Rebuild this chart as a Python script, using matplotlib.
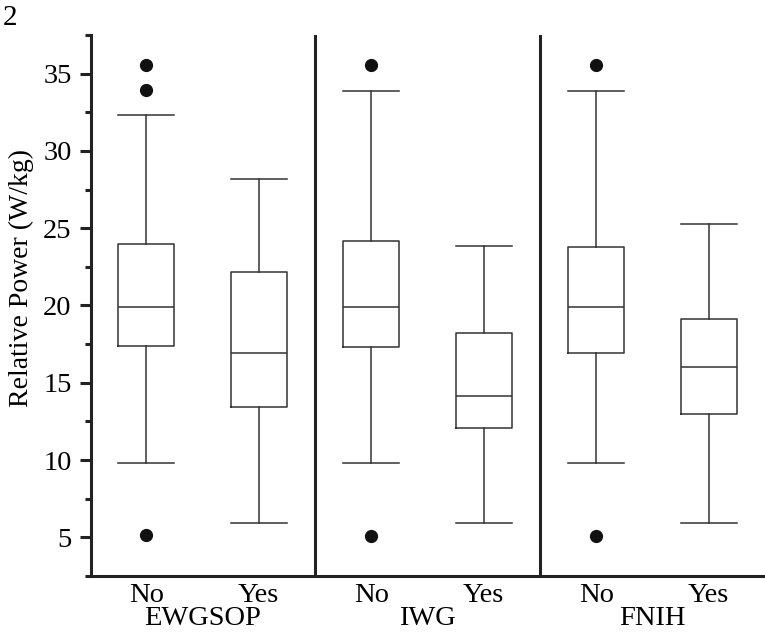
import matplotlib
matplotlib.use("Agg")
import matplotlib.pyplot as plt
import matplotlib.transforms as mtransforms
from matplotlib.ticker import MultipleLocator

plt.rcParams['font.family'] = ['Liberation Serif', 'DejaVu Serif']

# box plot summaries
groups = ["EWGSOP", "IWG", "FNIH"]
labels = ["No", "Yes", "No", "Yes", "No", "Yes"]
whislo = [9.8, 5.9, 9.8, 5.9, 9.8, 5.9]
q1 = [17.4, 13.4, 17.3, 12.1, 16.9, 13.0]
med = [19.9, 16.9, 19.9, 14.15, 19.9, 16.05]
q3 = [23.95, 22.15, 24.15, 18.2, 23.8, 19.1]
whishi = [32.3, 28.2, 33.9, 23.85, 33.9, 25.3]
fliers = [[35.55, 33.95, 5.15], [], [35.55, 5.1], [], [35.55, 5.1], []]

stats = []
for i in range(len(labels)):
    stats.append(dict(label=labels[i], whislo=whislo[i], q1=q1[i], med=med[i],
                      q3=q3[i], whishi=whishi[i], fliers=fliers[i]))

fig = plt.figure(figsize=(7.65, 6.38), dpi=100)
ax = fig.add_axes([0.119, 0.0972, 0.881, 0.848])

line_col = '#333333'
positions = list(range(1, len(labels) + 1))
ax.bxp(stats, positions=positions, widths=0.5, capwidths=0.5,
       boxprops=dict(color=line_col, linewidth=1.1),
       whiskerprops=dict(color=line_col, linewidth=1.1),
       capprops=dict(color=line_col, linewidth=1.1),
       medianprops=dict(color=line_col, linewidth=1.1),
       flierprops=dict(marker='o', markerfacecolor='#111111',
                       markeredgecolor='#111111', markersize=8.5))

# group separators
for xs in [2.5, 4.5]:
    ax.axvline(xs, color='#222222', linewidth=2.2)

ax.set_xlim(0.51, 6.5)
ax.set_ylim(2.5, 37.5)
ax.yaxis.set_major_locator(MultipleLocator(5))
ax.yaxis.set_minor_locator(MultipleLocator(2.5))
ax.set_yticks([5, 10, 15, 20, 25, 30, 35])
ax.tick_params(axis='y', which='major', length=8, width=2.2, labelsize=20.5,
               color='#222222', pad=6)
ax.tick_params(axis='y', which='minor', length=4.5, width=2.2, color='#222222')
ax.tick_params(axis='x', length=0, labelsize=20.5, pad=5)
ax.set_xticks(positions)
ax.set_xticklabels(labels)

for side in ['top', 'right']:
    ax.spines[side].set_visible(False)
for side in ['left', 'bottom']:
    ax.spines[side].set_linewidth(2.2)
    ax.spines[side].set_color('#222222')

ax.set_ylabel("Relative Power (W/kg)", fontsize=20)
ax.yaxis.set_label_coords(-0.085, 0.551)

trans = mtransforms.blended_transform_factory(ax.transData, ax.transAxes)
for k, g in enumerate(groups):
    ax.text(1.5 + 2 * k, -0.0795, g, transform=trans, ha='center', va='center',
            fontsize=20.5)

fig.text(0.003, 0.992, "2", ha='left', va='top', fontsize=21)

fig.savefig("out.png", dpi=100)
